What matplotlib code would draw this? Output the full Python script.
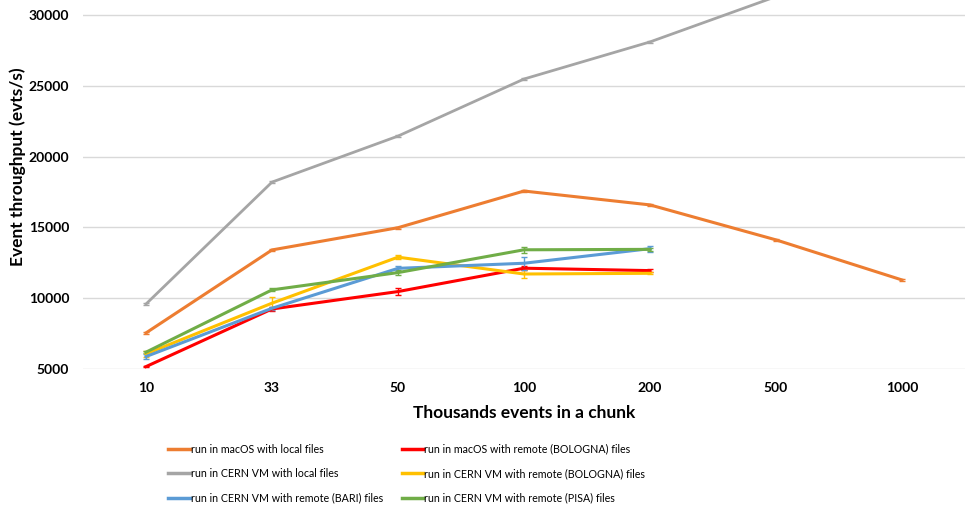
import numpy as np
import matplotlib
matplotlib.use('Agg')
import matplotlib.pyplot as plt

plt.rcParams['font.family'] = ['Lato', 'DejaVu Sans']

# Dados
categorias = ['10', '33', '50', '100', '200', '500', '1000']

mac_local = [7550, 13410, 14980, 17570, 16590, 14120, 11290]
mac_local_err = [60, 60, 60, 60, 60, 80, 100]

mac_bologna = [5170, 9240, 10470, 12120, 11950]
mac_bologna_err = [60, 120, 250, 150, 100]

cern_local = [9590, 18200, 21450, 25480, 28100, 31300]
cern_local_err = [50, 50, 50, 50, 50, 50]

cern_bologna = [6070, 9650, 12900, 11710, 11760]
cern_bologna_err = [200, 420, 150, 300, 80]

cern_bari = [5880, 9290, 12110, 12470, 13500]
cern_bari_err = [150, 100, 190, 450, 220]

cern_pisa = [6190, 10590, 11810, 13420, 13450]
cern_pisa_err = [60, 100, 150, 220, 100]

series = [
    ('run in macOS with local files', mac_local, mac_local_err, '#ED7D31'),
    ('run in macOS with remote (BOLOGNA) files', mac_bologna, mac_bologna_err, '#FF0000'),
    ('run in CERN VM with local files', cern_local, cern_local_err, '#A5A5A5'),
    ('run in CERN VM with remote (BOLOGNA) files', cern_bologna, cern_bologna_err, '#FFC000'),
    ('run in CERN VM with remote (BARI) files', cern_bari, cern_bari_err, '#5B9BD5'),
    ('run in CERN VM with remote (PISA) files', cern_pisa, cern_pisa_err, '#70AD47'),
]

fig = plt.figure(figsize=(9.65, 5.09), dpi=100)
ax = fig.add_axes([0.086, 0.275, 0.914, 0.725])

linhas = {}
for nome, vals, errs, cor in series:
    x = np.arange(len(vals)) + 0.5
    ax.errorbar(x, vals, yerr=errs, color=cor, lw=2.2 if cor != '#A5A5A5' else 2.0,
                elinewidth=1, capsize=2.5, capthick=1, zorder=3)
    linhas[nome] = plt.Line2D([], [], color=cor, lw=2.5)

ax.set_xlim(0, 7)
ax.set_ylim(5000, 31060)
ax.set_xticks(np.arange(7) + 0.5)
ax.set_xticklabels(categorias)
ax.set_yticks(np.arange(5000, 30001, 5000))
ax.tick_params(axis='y', length=0, labelsize=10, pad=10)
ax.tick_params(axis='x', length=0, labelsize=10, pad=9)
for lab in ax.get_xticklabels() + ax.get_yticklabels():
    lab.set_fontweight('bold')
ax.grid(axis='y', color='#D9D9D9', lw=1)
ax.set_axisbelow(True)
for s in ax.spines.values():
    s.set_visible(False)

ax.set_xlabel('Thousands events in a chunk', fontsize=12.5, fontweight='bold', labelpad=8)
ax.set_ylabel('Event throughput (evts/s)', fontsize=12.5, fontweight='bold')
ax.yaxis.set_label_coords(-0.0646, 0.547)

ordem = [series[0][0], series[2][0], series[4][0], series[1][0], series[3][0], series[5][0]]
fig.legend([linhas[n] for n in ordem], ordem, ncol=2, loc='upper left',
           bbox_to_anchor=(0.170, 0.137), frameon=False, fontsize=7.7,
           handlelength=2.0, handletextpad=0.1, columnspacing=1.75, labelspacing=1.25,
           borderaxespad=0)

fig.savefig('out.png', dpi=100)
